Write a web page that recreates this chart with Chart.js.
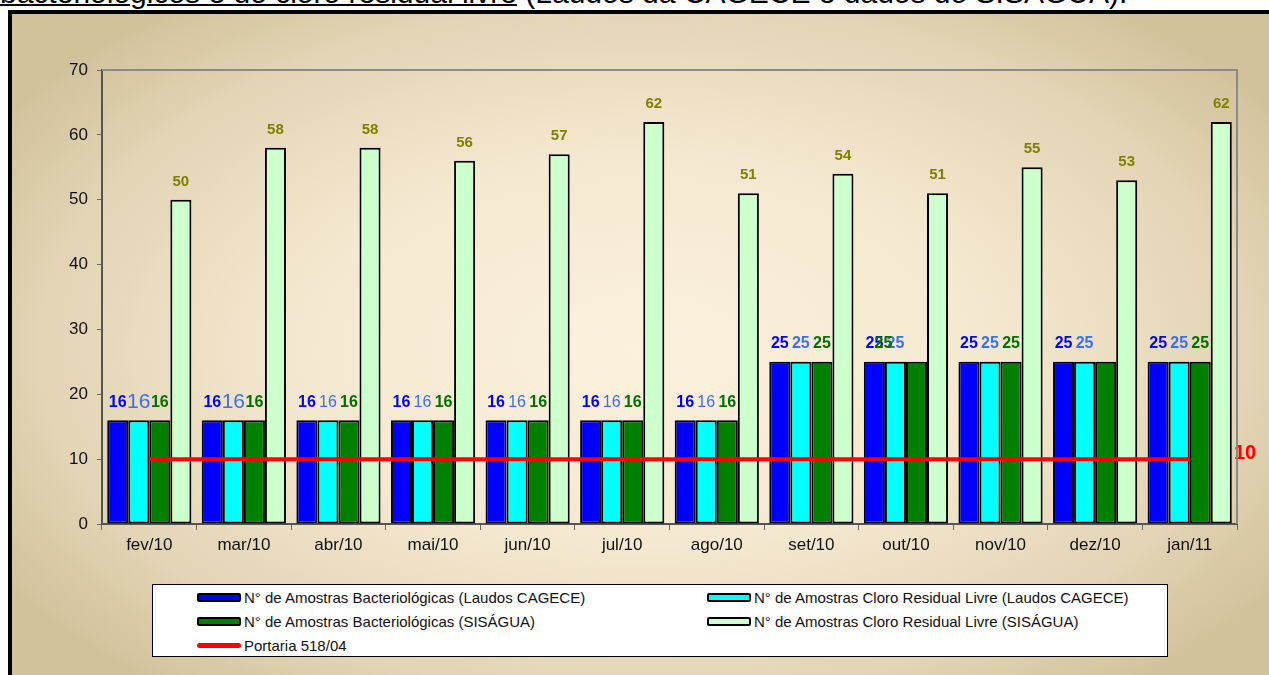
<!DOCTYPE html>
<html>
<head>
<meta charset="utf-8">
<script src="https://cdn.jsdelivr.net/npm/chart.js@4/dist/chart.umd.min.js"></script>
<style>
    body { margin: 0; width: 1269px; height: 675px; overflow: hidden; background: #fff; font-family: "Liberation Sans", Arial, sans-serif; }
    #caption { position: absolute; left: 0; top: -22px; font-size: 30px; line-height: 30px; color: #000; white-space: nowrap; }
    #caption u { text-decoration-thickness: 2px; }
    #frame { position: absolute; left: 8px; top: 10px; width: 1270px; height: 680px; border: 4px solid #000; box-sizing: border-box;
        background: radial-gradient(ellipse 60% 65% at 50% 50%, #fcf1dc 0%, #f4e8d0 45%, #e2d4b4 80%, #d2c29c 100%); }
    #chartBox { position: absolute; left: 0; top: 0; }
    #legend { position: absolute; left: 152px; top: 584px; width: 1016px; height: 73px; border: 1px solid #000; background: #fff; box-sizing: border-box; }
    .item { position: absolute; font-size: 15px; color: #111; white-space: nowrap; }
    .swatch { position: absolute; left: -47px; top: 4px; width: 44px; height: 9px; box-sizing: border-box; border: 2px solid #000; border-radius: 2px; }
    .lineSwatch { position: absolute; left: -47px; top: 6px; width: 44px; height: 5px; border-radius: 3px; }
</style>
</head>
<body>
<div id="caption"><u>bacteriológicos e do cloro residual livre</u> (Laudos da CAGECE e dados do SISÁGUA).</div>
<div id="frame"></div>
<div id="chartBox"><canvas id="chart" width="1269" height="675"></canvas></div>
<div id="legend"></div>

<script>
var months = ["fev/10", "mar/10", "abr/10", "mai/10", "jun/10", "jul/10", "ago/10", "set/10", "out/10", "nov/10", "dez/10", "jan/11"];
var bactCagece = [16, 16, 16, 16, 16, 16, 16, 25, 25, 25, 25, 25];
var cloroCagece = [16, 16, 16, 16, 16, 16, 16, 25, 25, 25, 25, 25];
var bactSisagua = [16, 16, 16, 16, 16, 16, 16, 25, 25, 25, 25, 25];
var cloroSisagua = [50, 58, 58, 56, 57, 62, 51, 54, 51, 55, 53, 62];
var portaria = [10, 10, 10, 10, 10, 10, 10, 10, 10, 10, 10, 10];
var yTicks = [0, 10, 20, 30, 40, 50, 60, 70];

var seriesNames = [
    "N° de Amostras Bacteriológicas (Laudos CAGECE)",
    "N° de Amostras Cloro Residual Livre (Laudos CAGECE)",
    "N° de Amostras Bacteriológicas (SISÁGUA)",
    "N° de Amostras Cloro Residual Livre (SISÁGUA)",
    "Portaria 518/04"
];
var barColors = ["#0000ff", "#00ffff", "#008000", "#ccffcc"];
var labelColors = ["#0000ff", "#3c6ef0", "#007000", "#808000"];

// value labels above the bars, plus the "10" at the end of the red line
var valueLabels = {
    id: "valueLabels",
    afterDatasetsDraw: function (chart) {
        var ctx = chart.ctx;
        ctx.save();
        ctx.textAlign = "center";
        ctx.textBaseline = "middle";
        for (var d = 0; d < 4; d++) {
            var meta = chart.getDatasetMeta(d);
            var values = chart.data.datasets[d].data;
            meta.data.forEach(function (bar, i) {
                if (d == 2 && i == 10) {
                    return;
                }
                var font = "bold 16px 'Liberation Sans', Arial";
                if (d == 1 && i < 2) {
                    font = "21px 'Liberation Sans', Arial";
                } else if (d == 1 && i < 7) {
                    font = "16px 'Liberation Sans', Arial";
                } else if (d == 3) {
                    font = "bold 15px 'Liberation Sans', Arial";
                }
                var x = bar.x;
                if (d == 2 && i == 8) {
                    x -= 33;
                }
                ctx.font = font;
                ctx.fillStyle = labelColors[d];
                ctx.fillText(values[i], x, bar.y - 18);
            });
        }
        var line = chart.getDatasetMeta(4).data;
        var last = line[line.length - 1];
        ctx.font = "bold 20px 'Liberation Sans', Arial";
        ctx.fillStyle = "#ff0000";
        ctx.textAlign = "left";
        ctx.fillText(portaria[portaria.length - 1], chart.chartArea.right - 3, last.y - 6);
        ctx.restore();
    }
};

var plotFrame = {
    id: "plotFrame",
    afterDraw: function (chart) {
        var a = chart.chartArea;
        var ctx = chart.ctx;
        ctx.save();
        ctx.strokeStyle = "#8a8a8a";
        ctx.lineWidth = 2;
        ctx.beginPath();
        ctx.moveTo(a.left, a.top);
        ctx.lineTo(a.right, a.top);
        ctx.lineTo(a.right, a.bottom);
        ctx.stroke();
        ctx.restore();
    }
};

var barSets = [bactCagece, cloroCagece, bactSisagua, cloroSisagua].map(function (values, k) {
    return {
        type: "bar",
        label: seriesNames[k],
        data: values,
        backgroundColor: barColors[k],
        borderColor: "#000000",
        borderWidth: 2,
        borderSkipped: false,
        barPercentage: 1.0,
        categoryPercentage: 0.89,
        order: 2
    };
});

var chart = new Chart(document.getElementById("chart"), {
    type: "bar",
    data: {
        labels: months,
        datasets: barSets.concat([{
            type: "line",
            label: seriesNames[4],
            data: portaria,
            borderColor: "#ff0000",
            borderWidth: 4,
            pointRadius: 0,
            fill: false,
            order: 1
        }])
    },
    options: {
        responsive: false,
        animation: false,
        layout: { padding: { left: 42, right: 32, top: 70, bottom: 111 } },
        plugins: {
            legend: { display: false },
            tooltip: { enabled: false }
        },
        scales: {
            x: {
                grid: { drawOnChartArea: false, drawTicks: true, tickLength: 6, color: "#666" },
                border: { color: "#555", width: 2 },
                ticks: { color: "#111", font: { size: 17, family: "'Liberation Sans', Arial" }, padding: 5 },
                afterFit: function (scale) { scale.height = 40; }
            },
            y: {
                min: 0,
                max: 70,
                afterBuildTicks: function (scale) {
                    scale.ticks = yTicks.map(function (v) { return { value: v }; });
                },
                grid: { drawOnChartArea: false, drawTicks: true, tickLength: 5, color: "#666" },
                border: { color: "#555", width: 2 },
                ticks: { color: "#111", font: { size: 17, family: "'Liberation Sans', Arial" }, padding: 9 },
                afterFit: function (scale) { scale.width = 60; }
            }
        }
    },
    plugins: [valueLabels, plotFrame]
});

// legend box in two columns, built from the chart datasets
var legendBox = document.getElementById("legend");
var spots = [[91, 4], [601, 4], [91, 28], [601, 28], [91, 52]];
chart.data.datasets.forEach(function (ds, i) {
    var item = document.createElement("div");
    item.className = "item";
    item.style.left = spots[i][0] + "px";
    item.style.top = spots[i][1] + "px";
    var sw = document.createElement("span");
    if (ds.type == "line") {
        sw.className = "lineSwatch";
        sw.style.background = ds.borderColor;
    } else {
        sw.className = "swatch";
        sw.style.background = ds.backgroundColor;
    }
    item.appendChild(sw);
    item.appendChild(document.createTextNode(ds.label));
    legendBox.appendChild(item);
});
</script>
</body>
</html>
